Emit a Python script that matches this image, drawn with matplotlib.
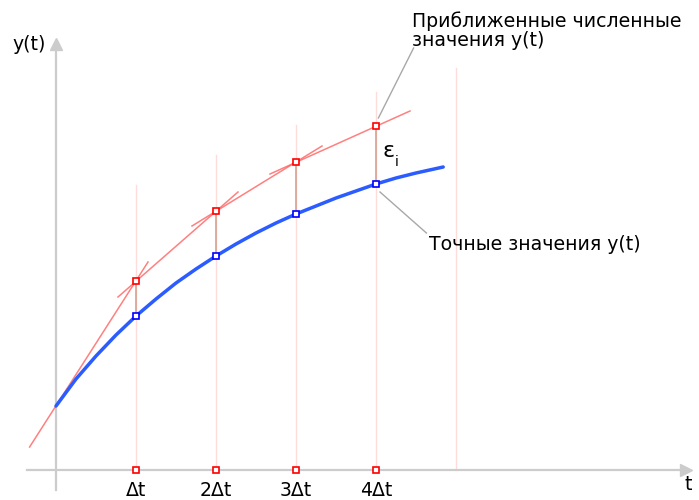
import numpy as np
import matplotlib
matplotlib.use("Agg")
import matplotlib.pyplot as plt

# шаги по времени (в единицах dt) и значения y(t)
t_nodes = [0, 1, 2, 3, 4]
y_euler = [0.64, 1.89, 2.59, 3.08, 3.44]      # приближенные значения
y_exact_nodes = [0.64, 1.54, 2.14, 2.56, 2.86]  # точные значения в узлах

# точное решение
t_exact = [0, 0.25, 0.5, 0.75, 1, 1.25, 1.5, 1.75, 2, 2.25, 2.5, 2.75,
           3, 3.25, 3.5, 3.75, 4, 4.25, 4.5, 4.84]
y_exact = [0.64, 0.91, 1.14, 1.35, 1.54, 1.71, 1.87, 2.01, 2.14, 2.26,
           2.37, 2.47, 2.56, 2.64, 2.72, 2.79, 2.86, 2.92, 2.97, 3.03]

# отрезки ломаной Эйлера с продолжениями за узлы
seg_t = [[-0.33, 1.15], [0.775, 2.275], [1.7, 3.325], [2.675, 4.425]]
seg_y = [[0.23, 2.08], [1.73, 2.78], [2.44, 3.24], [2.96, 3.59]]

# вертикальные линии сетки
grid_t = [1, 2, 3, 4, 5]
grid_top = [2.85, 3.15, 3.45, 3.78, 4.02]

tick_labels = ["Δt", "2Δt", "3Δt", "4Δt"]

fig = plt.figure(figsize=(6.99, 5.0), dpi=100, facecolor='white')
ax = fig.add_axes([0, 0, 1, 1])
ax.set_xlim(-0.7, 8.0375)
ax.set_ylim(-0.3, 4.7)
ax.axis('off')

# сетка
for gt, top in zip(grid_t, grid_top):
    ax.plot([gt, gt], [0, top], color='#ffdcdc', lw=1, zorder=1)

# оси
ax.plot([-0.36, 7.9], [0, 0], color='#cccccc', lw=1.6, zorder=2)
ax.plot([0, 0], [-0.2, 4.25], color='#cccccc', lw=1.6, zorder=2)
ax.plot([7.88], [0], marker='>', color='#cccccc', ms=9, zorder=2)
ax.plot([0], [4.26], marker='^', color='#cccccc', ms=9, zorder=2)

# погрешности между точным и приближенным
for tn, ye, yx in zip(t_nodes[1:], y_euler[1:], y_exact_nodes[1:]):
    ax.plot([tn, tn], [yx, ye], color='#d8a090', lw=1.2, zorder=3)

# ломаная Эйлера
for st, sy in zip(seg_t, seg_y):
    ax.plot(st, sy, color='#ff6060', lw=1.1, alpha=0.8, zorder=4)

# точное решение
ax.plot(t_exact, y_exact, color='#2b5cff', lw=2.5, zorder=5,
        solid_capstyle='round')

# маркеры
ax.plot(t_nodes[1:], y_euler[1:], 's', ms=4.5, mfc='white', mec='red',
        mew=1.2, zorder=6)
ax.plot(t_nodes[1:], y_exact_nodes[1:], 's', ms=4.5, mfc='white',
        mec='blue', mew=1.2, zorder=6)
ax.plot(t_nodes[1:], [0] * 4, 's', ms=4.5, mfc='white', mec='red',
        mew=1.2, zorder=6)

fs = 13.6
for tn, lab in zip(t_nodes[1:], tick_labels):
    ax.text(tn, -0.21, lab, ha='center', va='center', fontsize=fs)
ax.text(7.9, -0.15, "t", ha='center', va='center', fontsize=fs)
ax.text(-0.34, 4.25, "y(t)", ha='center', va='center', fontsize=fs)

# подписи с выносками
ax.plot([4.47, 4.03], [4.22, 3.52], color='#a8a8a8', lw=1, zorder=3)
ax.text(4.45, 4.39, "Приближенные численные\nзначения y(t)", ha='left',
        va='center', fontsize=fs, linespacing=1.0)
ax.plot([4.05, 4.63], [2.78, 2.37], color='#a8a8a8', lw=1, zorder=3)
ax.text(4.66, 2.25, "Точные значения y(t)", ha='left', va='center',
        fontsize=fs)
ax.text(4.08, 3.19, "ε", ha='left', va='center', fontsize=16)
ax.text(4.24, 3.08, "i", ha='left', va='center', fontsize=10)

fig.savefig("out.png", dpi=100)
